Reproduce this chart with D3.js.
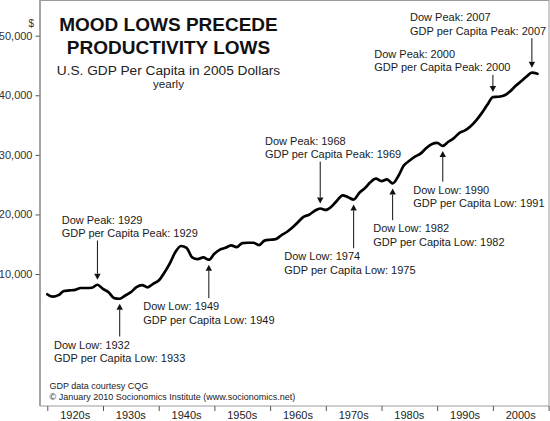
<!DOCTYPE html>
<html>
<head>
<meta charset="utf-8">
<script src="https://cdn.jsdelivr.net/npm/d3@7"></script>
<style>
  html, body { margin: 0; padding: 0; background: #fff; }
  svg { display: block; font-family: "Liberation Sans", Arial, Helvetica, sans-serif; }
</style>
</head>
<body>
<div id="chart"></div>
<script>
// ---- Data ----
const years = d3.range(1920, 2009);
const gdpPerCapita = [
  6600, 6200, 6450, 7150, 7250, 7350, 7650, 7650, 7700, 8200,
  7500, 6950, 5950, 5850, 6400, 6950, 7800, 8150, 7750, 8350,
  8900, 10200, 11800, 13700, 14700, 14400, 12800, 12500, 12800, 12400,
  13400, 14100, 14400, 14800, 14500, 15200, 15250, 15250, 14850, 15600,
  15750, 15850, 16500, 17050, 17800, 18700, 19600, 19950, 20600, 21000,
  20750, 21300, 22300, 23200, 22900, 22500, 23600, 24400, 25400, 26000,
  25600, 25900, 25200, 26400, 28200, 29000, 29700, 30200, 31100, 31800,
  32000, 31500, 32200, 32800, 33700, 34100, 34800, 35800, 37000, 38400,
  39700, 39750, 39950, 40600, 41500, 42300, 43100, 43800, 43600
];
const yTicks = [10000, 20000, 30000, 40000, 50000];
const decadeStarts = [1920, 1930, 1940, 1950, 1960, 1970, 1980, 1990, 2000];
const decadeLabels = ["1920s", "1930s", "1940s", "1950s", "1960s", "1970s", "1980s", "1990s", "2000s"];

const annoYears = [1929, 1933, 1949, 1969, 1975, 1982, 1991, 2000, 2007];
const annoLine1 = ["Dow Peak: 1929", "Dow Low: 1932", "Dow Low: 1949", "Dow Peak: 1968", "Dow Low: 1974",
                   "Dow Low: 1982", "Dow Low: 1990", "Dow Peak: 2000", "Dow Peak: 2007"];
const annoLine2 = ["GDP per Capita Peak: 1929", "GDP per Capita Low: 1933", "GDP per Capita Low: 1949",
                   "GDP per Capita Peak: 1969", "GDP per Capita Low: 1975", "GDP per Capita Low: 1982",
                   "GDP per Capita Low: 1991", "GDP per Capita Peak: 2000", "GDP per Capita Peak: 2007"];
const annoDir = ["down", "up", "up", "down", "up", "up", "up", "down", "down"];

// ---- Layout ----
const W = 550, H = 421;
const frame = { left: 40, top: 0.5, right: 549, bottom: 406 };
const annoTextPos = [
  [61.7, 223.5], [54, 348.5], [143.3, 310.2], [265, 144.6], [284.3, 260.2],
  [373.3, 232.2], [413.3, 193.6], [374.3, 57.9], [410, 21.2]
];

const svg = d3.select("#chart").append("svg").attr("width", W).attr("height", H);

const x = d3.scaleLinear().domain([1920, 2010]).range([47.3, 548.6]);
const y = d3.scaleLinear().domain([0, 50000]).range([333.6, 35.7]);

// Frame
svg.append("rect")
  .attr("x", frame.left).attr("y", frame.top)
  .attr("width", frame.right - frame.left).attr("height", frame.bottom - frame.top)
  .attr("fill", "none").attr("stroke", "#9a9a9a").attr("stroke-width", 1);
svg.append("line")
  .attr("x1", frame.left).attr("x2", frame.left).attr("y1", 0).attr("y2", frame.bottom)
  .attr("stroke", "#a0a0a0").attr("stroke-width", 1.8);

// Y axis
const yAxis = d3.axisLeft(y).tickValues(yTicks).tickSize(4).tickPadding(3)
  .tickFormat(d3.format(","));
const gy = svg.append("g").attr("transform", `translate(${frame.left - 0.5},0)`).call(yAxis);
gy.select(".domain").remove();
gy.selectAll(".tick line").attr("stroke", "#555");
gy.selectAll(".tick text").attr("font-size", 11).attr("fill", "#333")
  .attr("font-family", "'Liberation Sans', Arial, sans-serif");
svg.append("text").attr("x", 34).attr("y", 27).attr("text-anchor", "end")
  .attr("font-size", 10).attr("fill", "#333").text("$");

// X axis (decade ticks, labels at mid-decade)
const gx = svg.append("g").attr("transform", `translate(0,${frame.bottom})`);
gx.call(d3.axisBottom(x).tickValues(decadeStarts.concat([2010])).tickSize(5).tickFormat(""));
gx.select(".domain").remove();
gx.selectAll(".tick line").attr("stroke", "#555");
gx.selectAll("text.dec").data(decadeStarts).enter().append("text")
  .attr("class", "dec")
  .attr("x", d => x(d + 5)).attr("y", 13.3)
  .attr("text-anchor", "middle").attr("font-size", 11).attr("fill", "#222")
  .text((d, i) => decadeLabels[i]);

// Line
const series = years.map((yr, i) => ({ year: yr, value: gdpPerCapita[i] }));
svg.append("path").datum(series)
  .attr("fill", "none").attr("stroke", "#000").attr("stroke-width", 2.7)
  .attr("stroke-linejoin", "round").attr("stroke-linecap", "round")
  .attr("d", d3.line().x(d => x(d.year)).y(d => y(d.value)).curve(d3.curveMonotoneX));

// Titles
svg.append("text").attr("x", 168.5).attr("y", 31).attr("text-anchor", "middle")
  .attr("font-size", 19).attr("font-weight", "bold").attr("fill", "#111").text("MOOD LOWS PRECEDE");
svg.append("text").attr("x", 168.5).attr("y", 54).attr("text-anchor", "middle")
  .attr("font-size", 19).attr("font-weight", "bold").attr("fill", "#111").text("PRODUCTIVITY LOWS");
svg.append("text").attr("x", 168.5).attr("y", 75).attr("text-anchor", "middle")
  .attr("font-size", 13.7).attr("fill", "#222").text("U.S. GDP Per Capita in 2005 Dollars");
svg.append("text").attr("x", 168.5).attr("y", 88).attr("text-anchor", "middle")
  .attr("font-size", 11.6).attr("fill", "#222").text("yearly");

// Footer
svg.append("text").attr("x", 49.5).attr("y", 389).attr("font-size", 9).attr("fill", "#222")
  .text("GDP data courtesy CQG");
svg.append("text").attr("x", 49.5).attr("y", 399.5).attr("font-size", 9).attr("fill", "#222")
  .text("\u00A9 January 2010 Socionomics Institute (www.socionomics.net)");

// Annotations
const lineGap = 13.5;
const valueOf = yr => gdpPerCapita[years.indexOf(yr)];
annoYears.forEach((yr, i) => {
  const [tx, ty] = annoTextPos[i];
  const g = svg.append("g");
  g.append("text").attr("x", tx).attr("y", ty).attr("font-size", 11).attr("fill", "#1a1a1a").text(annoLine1[i]);
  g.append("text").attr("x", tx).attr("y", ty + lineGap).attr("font-size", 11).attr("fill", "#1a1a1a").text(annoLine2[i]);
  const ax = x(yr);
  const ly = y(valueOf(yr));
  let tail, tip;
  if (annoDir[i] === "down") {
    tail = ty + lineGap + 3.5;
    tip = ly - 5;
  } else {
    tail = ty - 12;
    tip = ly + 5;
  }
  const s = annoDir[i] === "down" ? -1 : 1;
  const headLen = 6, headHalf = 3.2;
  g.append("line").attr("x1", ax).attr("x2", ax).attr("y1", tail).attr("y2", tip + s * headLen)
    .attr("stroke", "#111").attr("stroke-width", 1);
  g.append("path")
    .attr("d", `M${ax},${tip} L${ax - headHalf},${tip + s * headLen} L${ax + headHalf},${tip + s * headLen} Z`)
    .attr("fill", "#111");
});
</script>
</body>
</html>
